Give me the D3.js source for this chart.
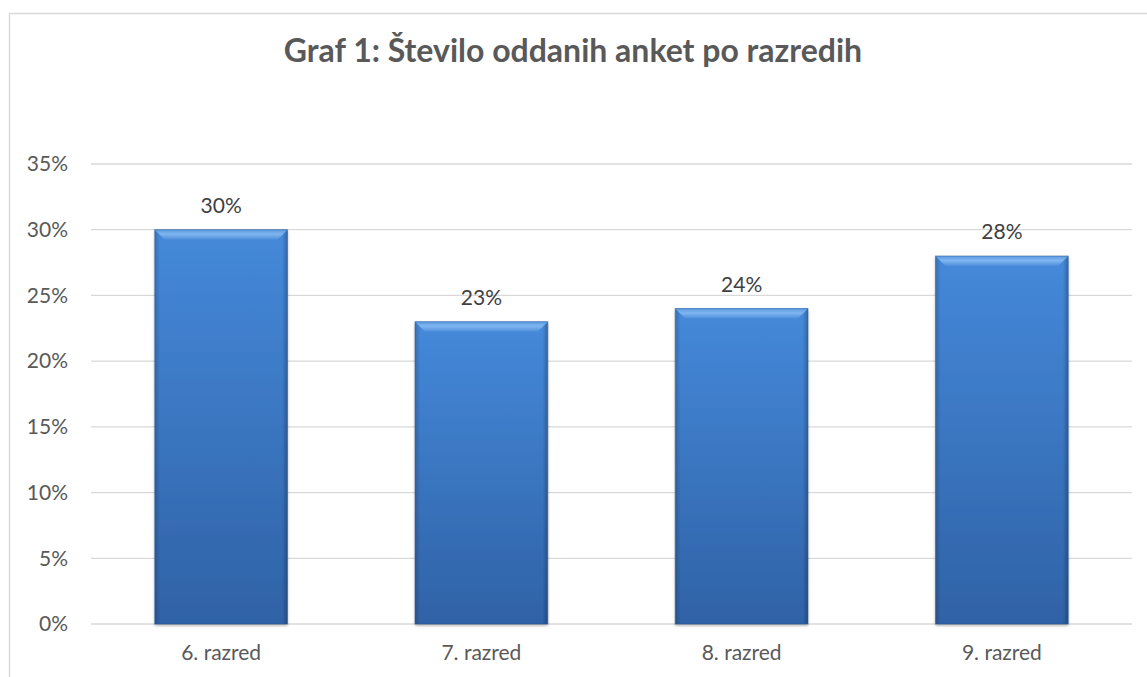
<!DOCTYPE html>
<html>
<head>
<meta charset="utf-8">
<script src="https://cdn.jsdelivr.net/npm/d3@7"></script>
<style>
  body { margin: 0; background: #fff; }
  svg { display: block; font-family: Lato, "Open Sans", sans-serif; }
</style>
</head>
<body>
<svg id="chart" width="1147" height="677"></svg>
<script>
//data
const title = 'Graf 1: Število oddanih anket po razredih';
const categories = ['6. razred', '7. razred', '8. razred', '9. razred'];
const values = [0.30, 0.23, 0.24, 0.28];
const yTicks = [0, 0.05, 0.10, 0.15, 0.20, 0.25, 0.30, 0.35];

//layout
const W = 1147, H = 677;
const plot = { left: 91, right: 1132, top: 164, bottom: 624 };
const textColor = '#595959';
const fontSize = 21;

const svg = d3.select('#chart');

// chart border
svg.append('rect')
  .attr('x', 9.5).attr('y', 13.5)
  .attr('width', W + 20).attr('height', H + 20)
  .attr('fill', 'none')
  .attr('stroke', '#d9d9d9')
  .attr('stroke-width', 1.5);

// title
svg.append('text')
  .attr('x', 573).attr('y', 62)
  .attr('text-anchor', 'middle')
  .attr('fill', textColor)
  .attr('font-size', 32)
  .attr('font-weight', 'bold')
  .text(title);

const x = d3.scaleBand()
  .domain(categories)
  .range([plot.left, plot.right])
  .paddingInner(0.49)
  .paddingOuter(0.245);

const y = d3.scaleLinear()
  .domain([0, 0.35])
  .range([plot.bottom, plot.top]);

// gridlines
svg.append('g')
  .selectAll('line')
  .data(yTicks)
  .join('line')
  .attr('x1', plot.left).attr('x2', plot.right)
  .attr('y1', d => y(d)).attr('y2', d => y(d))
  .attr('stroke', '#d9d9d9')
  .attr('stroke-width', 1.3);

// y axis labels
const yAxis = svg.append('g')
  .attr('transform', `translate(${plot.left - 23},0)`)
  .call(d3.axisLeft(y).tickValues(yTicks).tickFormat(d3.format('.0%')).tickSize(0).tickPadding(0));
yAxis.select('.domain').remove();
yAxis.selectAll('text')
  .attr('fill', textColor)
  .attr('font-size', fontSize)
  .attr('font-family', 'Lato, "Open Sans", sans-serif');

// x axis labels
const xAxis = svg.append('g')
  .attr('transform', `translate(0,${plot.bottom + 20})`)
  .call(d3.axisBottom(x).tickSize(0).tickPadding(0));
xAxis.select('.domain').remove();
xAxis.selectAll('text')
  .attr('fill', textColor)
  .attr('font-size', fontSize)
  .attr('dy', '0.75em')
  .attr('font-family', 'Lato, "Open Sans", sans-serif');

// gradients
const defs = svg.append('defs');
const body = defs.append('linearGradient')
  .attr('id', 'barBody').attr('x1', 0).attr('y1', 0).attr('x2', 0).attr('y2', 1);
body.append('stop').attr('offset', '0%').attr('stop-color', '#4589da');
body.append('stop').attr('offset', '100%').attr('stop-color', '#2f62a6');

const side = defs.append('linearGradient')
  .attr('id', 'barSide').attr('x1', 0).attr('y1', 0).attr('x2', 1).attr('y2', 0);
side.append('stop').attr('offset', '0%').attr('stop-color', '#000').attr('stop-opacity', 0.18);
side.append('stop').attr('offset', '4%').attr('stop-color', '#000').attr('stop-opacity', 0);
side.append('stop').attr('offset', '96%').attr('stop-color', '#000').attr('stop-opacity', 0);
side.append('stop').attr('offset', '100%').attr('stop-color', '#000').attr('stop-opacity', 0.25);

const topBevel = defs.append('linearGradient')
  .attr('id', 'barTop').attr('x1', 0).attr('y1', 0).attr('x2', 0).attr('y2', 1);
topBevel.append('stop').attr('offset', '0%').attr('stop-color', '#5c9ae2');
topBevel.append('stop').attr('offset', '45%').attr('stop-color', '#80b6f0');
topBevel.append('stop').attr('offset', '100%').attr('stop-color', '#4d8ddb');

const filt = defs.append('filter').attr('id', 'shadow')
  .attr('x', '-10%').attr('y', '-10%').attr('width', '120%').attr('height', '120%');
filt.append('feDropShadow').attr('dx', 0).attr('dy', 1.5).attr('stdDeviation', 1.5)
  .attr('flood-color', '#000').attr('flood-opacity', 0.35);

// bars
const bars = svg.append('g')
  .selectAll('g')
  .data(values)
  .join('g')
  .attr('transform', (d, i) => `translate(${x(categories[i])},${y(d)})`);

const bw = x.bandwidth();
const bevel = 10;

bars.append('rect')
  .attr('width', bw)
  .attr('height', d => y(0) - y(d))
  .attr('fill', 'url(#barBody)')
  .attr('filter', 'url(#shadow)');

bars.append('rect')
  .attr('width', bw)
  .attr('height', d => y(0) - y(d))
  .attr('fill', 'url(#barSide)');

bars.append('path')
  .attr('d', `M0,0 L${bw},0 L${bw - bevel},${bevel} L${bevel},${bevel} Z`)
  .attr('fill', 'url(#barTop)');

bars.append('rect')
  .attr('width', bw)
  .attr('height', d => y(0) - y(d))
  .attr('fill', 'none')
  .attr('stroke', '#2a5a9a')
  .attr('stroke-opacity', 0.5)
  .attr('stroke-width', 1);

// value labels
svg.append('g')
  .selectAll('text')
  .data(values)
  .join('text')
  .attr('x', (d, i) => x(categories[i]) + bw / 2)
  .attr('y', d => y(d) - 17)
  .attr('text-anchor', 'middle')
  .attr('fill', '#404040')
  .attr('font-size', fontSize)
  .text(d => d3.format('.0%')(d));
</script>
</body>
</html>
